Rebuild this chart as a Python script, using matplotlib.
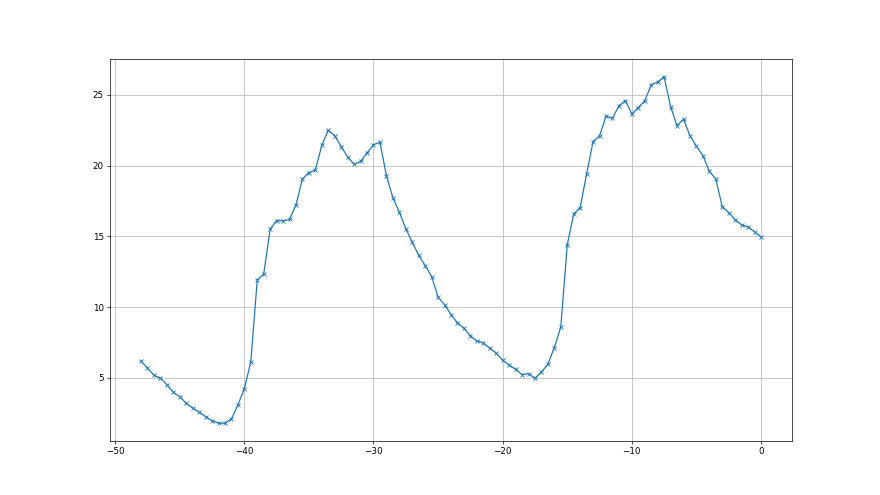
import numpy as np
import matplotlib
matplotlib.use("Agg")
import matplotlib.pyplot as plt

# x positions: -48 .. 0 in steps of 0.5
x_vals = np.arange(-48, 0.01, 0.5)
y_vals = [
    6.2, 5.69, 5.19, 4.98, 4.53, 3.99, 3.68, 3.21, 2.88, 2.58,
    2.27, 1.98, 1.80, 1.80, 2.10, 3.09, 4.24, 6.13, 11.93, 12.33,
    15.51, 16.12, 16.10, 16.20, 17.23, 19.06, 19.51, 19.70, 21.44, 22.50,
    22.10, 21.35, 20.60, 20.10, 20.30, 20.90, 21.47, 21.66, 19.28, 17.74,
    16.70, 15.55, 14.59, 13.67, 12.94, 12.16, 10.70, 10.18, 9.47, 8.89,
    8.51, 7.97, 7.61, 7.47, 7.10, 6.75, 6.25, 5.90, 5.61, 5.23,
    5.30, 4.98, 5.41, 5.97, 7.14, 8.60, 14.40, 16.59, 17.04, 19.42,
    21.70, 22.10, 23.49, 23.35, 24.22, 24.60, 23.64, 24.10, 24.58, 25.71,
    25.90, 26.28, 24.17, 22.82, 23.28, 22.12, 21.37, 20.71, 19.60, 19.06,
    17.11, 16.68, 16.17, 15.81, 15.67, 15.32, 14.96,
]

fig, ax = plt.subplots(figsize=(14, 7.875), dpi=880 / 14)
ax.plot(x_vals, y_vals, marker="x", markersize=5, linewidth=1.4)
ax.grid(True)
plt.savefig("out.png", dpi=880 / 14)
plt.close()
